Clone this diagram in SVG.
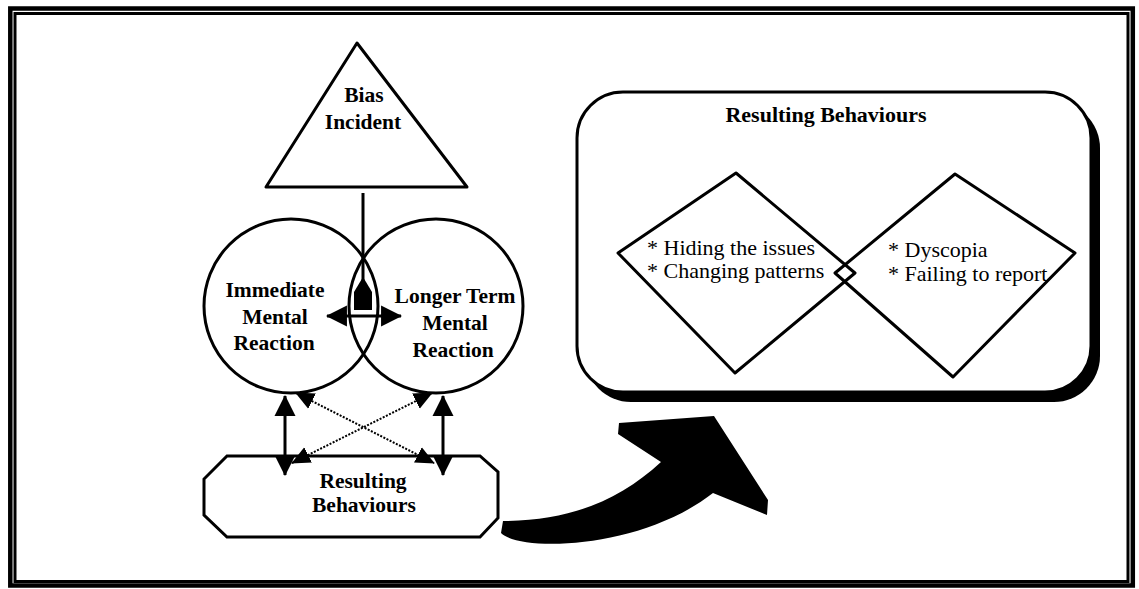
<svg xmlns="http://www.w3.org/2000/svg" width="1139" height="589" viewBox="0 0 1139 589">
  <defs>
    <style>
      .frame { fill: none; stroke: #000; }
      .shape { fill: #fff; stroke: #000; stroke-width: 3; }
      .lbl { font-family: "Liberation Serif", "Times New Roman", serif; font-weight: bold; font-size: 21.5px; fill: #000; text-anchor: middle; }
      .item { font-family: "Liberation Serif", "Times New Roman", serif; font-size: 22px; fill: #000; }
      .solid { fill: none; stroke: #000; stroke-width: 3; }
      .dotted { fill: none; stroke: #000; stroke-width: 2; stroke-dasharray: 2 1.5; }
    </style>
    <marker id="head" viewBox="0 0 20 20" refX="19" refY="10" markerWidth="21" markerHeight="22" markerUnits="userSpaceOnUse" orient="auto-start-reverse">
      <path d="M0,0 L20,10 L0,20 Z" fill="#000"/>
    </marker>
    <marker id="headSmall" viewBox="0 0 20 20" refX="19" refY="10" markerWidth="19" markerHeight="19" markerUnits="userSpaceOnUse" orient="auto-start-reverse">
      <path d="M0,1 L20,10 L0,19 Z" fill="#000"/>
    </marker>
  </defs>

  <rect width="1139" height="589" fill="#fff"/>

  <!-- double page frame -->
  <g id="frame">
    <rect class="frame" x="10.3" y="8.5" width="1122.5" height="577" stroke-width="4.5"/>
    <rect class="frame" x="15" y="13.5" width="1113" height="568" stroke-width="3"/>
  </g>

  <!-- triangle -->
  <g id="bias-incident">
    <polygon class="shape" points="357,43 266,187 467,187" stroke-linejoin="round"/>
    <text class="lbl" x="364" y="102">Bias</text>
    <text class="lbl" x="363" y="129">Incident</text>
  </g>

  <!-- overlapping reaction circles -->
  <g id="immediate-reaction">
    <circle cx="291" cy="306" r="87" fill="none" stroke="#000" stroke-width="3"/>
    <text class="lbl" x="275" y="297">Immediate</text>
    <text class="lbl" x="275" y="324">Mental</text>
    <text class="lbl" x="274" y="350">Reaction</text>
  </g>
  <g id="longer-term-reaction">
    <circle cx="436" cy="306" r="87" fill="none" stroke="#000" stroke-width="3"/>
    <text class="lbl" x="455" y="303">Longer Term</text>
    <text class="lbl" x="455" y="330">Mental</text>
    <text class="lbl" x="453" y="357">Reaction</text>
  </g>

  <!-- octagonal box -->
  <g id="resulting-behaviours">
    <polygon class="shape" points="227,456 480,456 498,472 498,518 480,537 227,537 204,515 204,479"/>
    <text class="lbl" x="363" y="488">Resulting</text>
    <text class="lbl" x="364" y="512">Behaviours</text>
  </g>

  <!-- connectors -->
  <g id="connectors">
    <line class="solid" x1="363" y1="193" x2="363" y2="292"/>
    <polygon points="363,277 372,292 372,310 354,310 354,292" fill="#000"/>
    <line class="solid" x1="327" y1="316" x2="401" y2="316" marker-start="url(#head)" marker-end="url(#head)"/>
    <line class="solid" x1="285" y1="396" x2="285" y2="475" marker-start="url(#head)" marker-end="url(#head)"/>
    <line class="solid" x1="443" y1="396" x2="443" y2="475" marker-start="url(#head)" marker-end="url(#head)"/>
    <line class="dotted" x1="296" y1="393" x2="434" y2="463" marker-start="url(#headSmall)" marker-end="url(#headSmall)"/>
    <line class="dotted" x1="292" y1="463" x2="432" y2="393" marker-start="url(#headSmall)" marker-end="url(#headSmall)"/>
  </g>

  <!-- big curved arrow -->
  <g id="transition-arrow">
    <path d="M503,521 L501,533 C520,552 640,550 713,493 L767,515 L768,500 L714,416 L619,423 L618,434 L661,462 C620,500 570,521 503,521 Z" fill="#000"/>
  </g>

  <!-- detail panel -->
  <g id="behaviours-panel">
    <rect x="585" y="102" width="515" height="300" rx="46" fill="#000"/>
    <rect x="577" y="92" width="514" height="300" rx="46" fill="#fff" stroke="#000" stroke-width="3"/>
    <text class="lbl" x="826" y="122" style="font-size:22px">Resulting Behaviours</text>
    <polygon points="736,173 855,273 735,373 618,253" fill="none" stroke="#000" stroke-width="3" stroke-linejoin="round"/>
    <polygon points="955,174 1075,253 953,377 835,273" fill="none" stroke="#000" stroke-width="3" stroke-linejoin="round"/>
    <text class="item" x="647" y="255">* Hiding the issues</text>
    <text class="item" x="647" y="278">* Changing patterns</text>
    <text class="item" x="888" y="257">* Dyscopia</text>
    <text class="item" x="888" y="281">* Failing to report</text>
  </g>
</svg>
